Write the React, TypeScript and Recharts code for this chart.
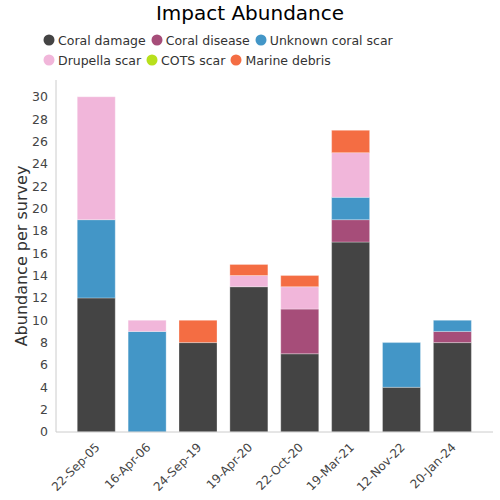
import { BarChart, Bar, XAxis, YAxis } from 'recharts';

const dates = ['22-Sep-05', '16-Apr-06', '24-Sep-19', '19-Apr-20', '22-Oct-20', '19-Mar-21', '12-Nov-22', '20-Jan-24'];
const coralDamage = [12, 0, 8, 13, 7, 17, 4, 8];
const coralDisease = [0, 0, 0, 0, 4, 2, 0, 1];
const unknownScar = [7, 9, 0, 0, 0, 2, 4, 1];
const drupellaScar = [11, 1, 0, 1, 2, 4, 0, 0];
const cotsScar = [0, 0, 0, 0, 0, 0, 0, 0];
const marineDebris = [0, 0, 2, 1, 1, 2, 0, 0];
const yTicks = [0, 2, 4, 6, 8, 10, 12, 14, 16, 18, 20, 22, 24, 26, 28, 30];

const series = [
  { key: 'Coral damage', values: coralDamage, color: '#444444' },
  { key: 'Coral disease', values: coralDisease, color: '#a64d79' },
  { key: 'Unknown coral scar', values: unknownScar, color: '#4396c7' },
  { key: 'Drupella scar', values: drupellaScar, color: '#f1b6da' },
  { key: 'COTS scar', values: cotsScar, color: '#b8e01c' },
  { key: 'Marine debris', values: marineDebris, color: '#f46d43' },
];

const data = dates.map((date, i) => {
  const row: Record<string, string | number> = { date };
  series.forEach((s) => {
    row[s.key] = s.values[i];
  });
  return row;
});

const font = '"DejaVu Sans", sans-serif';

function ChartLegend() {
  const rows = [series.slice(0, 3), series.slice(3)];
  return (
    <div style={{ position: 'absolute', top: 30, left: 43, fontFamily: font, fontSize: 12.5, color: '#333' }}>
      {rows.map((row, r) => (
        <div key={r} style={{ display: 'flex', height: 20, alignItems: 'center' }}>
          {row.map((s) => (
            <div key={s.key} style={{ display: 'flex', alignItems: 'center', marginRight: 5 }}>
              <svg width={12} height={12} style={{ marginRight: 3 }}>
                <circle cx={6} cy={6} r={5.5} fill={s.color} />
              </svg>
              <span>{s.key}</span>
            </div>
          ))}
        </div>
      ))}
    </div>
  );
}

function DateTick({ x, y, payload }: any) {
  return (
    <text
      x={x + 4}
      y={y + 8}
      transform={`rotate(-45, ${x + 4}, ${y + 8})`}
      textAnchor="end"
      fontSize={12}
      fill="#444"
      fontFamily={font}
    >
      {payload.value}
    </text>
  );
}

export default function App() {
  return (
    <div style={{ position: 'absolute', left: 0, top: 0, width: 500, height: 500, background: '#fff' }}>
      <div
        style={{
          position: 'absolute',
          top: 1,
          width: 500,
          textAlign: 'center',
          fontFamily: font,
          fontSize: 20,
          color: '#000',
        }}
      >
        Impact Abundance
      </div>
      <ChartLegend />
      <BarChart
        width={500}
        height={500}
        data={data}
        margin={{ top: 80, right: 7, bottom: 0, left: 0 }}
        barCategoryGap="12.3%"
        style={{ fontFamily: font }}
      >
        <XAxis
          dataKey="date"
          height={68}
          tickLine={false}
          axisLine={{ stroke: '#ccc' }}
          tick={<DateTick />}
          interval={0}
          padding={{ left: 15, right: 15 }}
        />
        <YAxis
          width={56}
          domain={[0, 31.5]}
          ticks={yTicks}
          interval={0}
          tickLine={false}
          tickSize={0}
          tickMargin={8}
          axisLine={{ stroke: '#ccc' }}
          tick={{ fontSize: 12.5, fill: '#444' }}
          label={{
            value: 'Abundance per survey',
            angle: -90,
            position: 'insideLeft',
            offset: 21,
            style: { textAnchor: 'middle', fontSize: 16, fill: '#333' },
          }}
        />
        {series.map((s) => (
          <Bar
            key={s.key}
            dataKey={s.key}
            stackId="a"
            fill={s.color}
            stroke="#ffffff"
            strokeOpacity={0.3}
            strokeWidth={1}
            isAnimationActive={false}
          />
        ))}
      </BarChart>
    </div>
  );
}
